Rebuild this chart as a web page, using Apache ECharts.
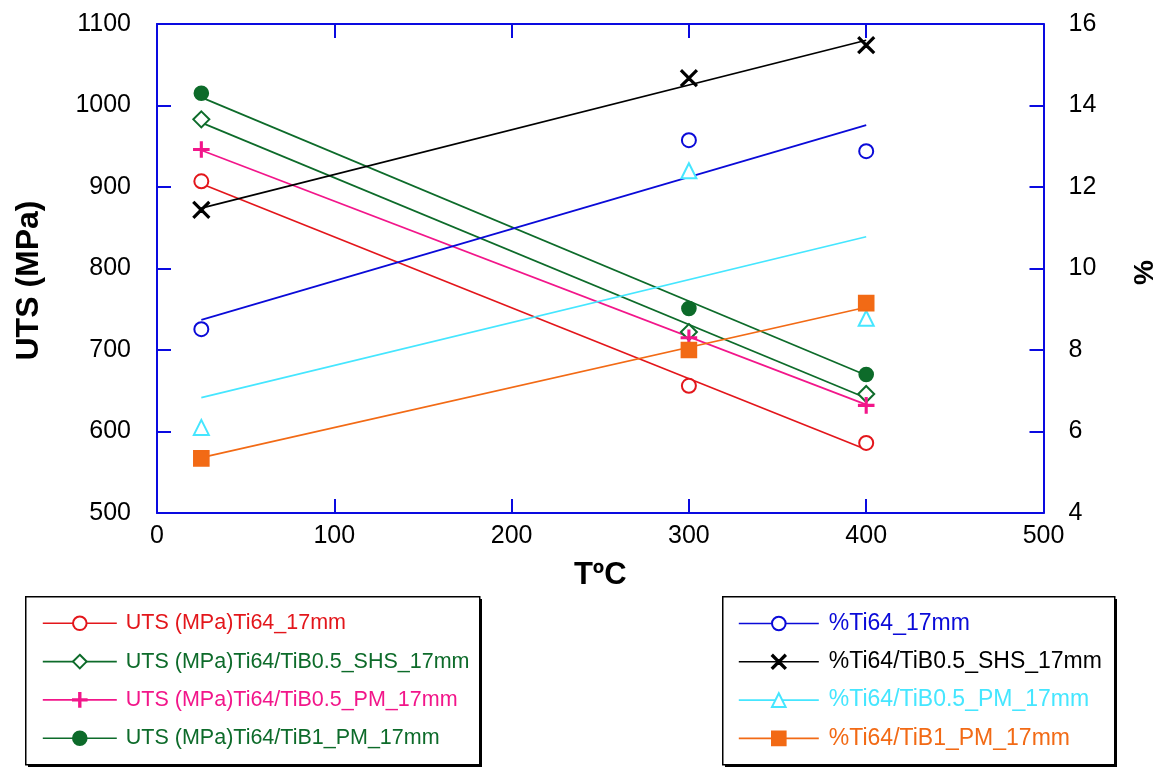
<!DOCTYPE html>
<html>
<head>
<meta charset="utf-8">
<script src="https://cdn.jsdelivr.net/npm/echarts@6/dist/echarts.min.js"></script>
<style>
html,body{margin:0;padding:0;background:#fff;overflow:hidden;}
#chart{width:1157px;height:769px;}
</style>
</head>
<body>
<div id="chart"></div>
<script>
// ---- data ----
const temps = [25, 300, 400];
const fitX = [25, 400];

const utsNames = [
  'UTS (MPa)Ti64_17mm',
  'UTS (MPa)Ti64/TiB0.5_SHS_17mm',
  'UTS (MPa)Ti64/TiB0.5_PM_17mm',
  'UTS (MPa)Ti64/TiB1_PM_17mm'
];
const utsTi64 = [907, 656, 586];
const utsSHS = [983, 722, 646];
const utsPM05 = [946, 715, 632];
const utsTiB1 = [1015, 751, 670];
const utsFitTi64 = [904, 578];
const utsFitSHS = [979, 641];
const utsFitPM05 = [945, 633];
const utsFitTiB1 = [1010, 669];

const pctNames = [
  '%Ti64_17mm',
  '%Ti64/TiB0.5_SHS_17mm',
  '%Ti64/TiB0.5_PM_17mm',
  '%Ti64/TiB1_PM_17mm'
];
const pctTi64 = [8.51, 13.15, 12.88];
const pctSHS = [11.44, 14.67, 15.48];
const pctPM05 = [6.1, 12.4, 8.78];
const pctTiB1 = [5.34, 8.0, 9.15];
const pctFitTi64 = [8.74, 13.52];
const pctFitSHS = [11.48, 15.6];
const pctFitPM05 = [6.83, 10.78];
const pctFitTiB1 = [5.36, 9.05];

// ---- styling ----
const FONT = 'Liberation Sans, Arial, sans-serif';
const AXIS_BLUE = '#0a0ae0';
const PLUS = 'path://M-1,-10 L1,-10 L1,-1 L10,-1 L10,1 L1,1 L1,10 L-1,10 L-1,1 L-10,1 L-10,-1 L-1,-1 Z';
const CROSS = 'path://M-10,-8.6 L-8.6,-10 L0,-1.4 L8.6,-10 L10,-8.6 L1.4,0 L10,8.6 L8.6,10 L0,1.4 L-8.6,10 L-10,8.6 L-1.4,0 Z';

const defs = [
  {name: utsNames[0], y: utsTi64, fit: utsFitTi64, axis: 0, color: '#e3161b', symbol: 'emptyCircle', size: 14},
  {name: utsNames[1], y: utsSHS, fit: utsFitSHS, axis: 0, color: '#0d6b2a', symbol: 'emptyDiamond', size: 16},
  {name: utsNames[2], y: utsPM05, fit: utsFitPM05, axis: 0, color: '#f2168a', symbol: PLUS, size: 15},
  {name: utsNames[3], y: utsTiB1, fit: utsFitTiB1, axis: 0, color: '#0d6b2a', symbol: 'circle', size: 14},
  {name: pctNames[0], y: pctTi64, fit: pctFitTi64, axis: 1, color: '#0a0ad8', symbol: 'emptyCircle', size: 14},
  {name: pctNames[1], y: pctSHS, fit: pctFitSHS, axis: 1, color: '#000000', symbol: CROSS, size: 16},
  {name: pctNames[2], y: pctPM05, fit: pctFitPM05, axis: 1, color: '#45e6ff', symbol: 'emptyTriangle', size: 15},
  {name: pctNames[3], y: pctTiB1, fit: pctFitTiB1, axis: 1, color: '#f26a15', symbol: 'rect', size: 15}
];

const series = [];
defs.forEach(d => {
  series.push({
    name: d.name + ' fit',
    type: 'line',
    xAxisIndex: 0,
    yAxisIndex: d.axis,
    data: fitX.map((x, i) => [x, d.fit[i]]),
    symbol: 'none',
    silent: true,
    lineStyle: {color: d.color, width: 1.7},
    z: 2
  });
  series.push({
    name: d.name,
    type: 'line',
    xAxisIndex: 0,
    yAxisIndex: d.axis,
    data: temps.map((x, i) => [x, d.y[i]]),
    symbol: d.symbol,
    symbolSize: d.size,
    showSymbol: true,
    color: d.color,
    itemStyle: {color: d.color, borderColor: d.color, borderWidth: 1.6},
    lineStyle: {color: d.color, width: 1.6, opacity: 0},
    z: 3
  });
});

function legendData(from, to) {
  return defs.slice(from, to).map(d => ({
    name: d.name,
    textStyle: {color: d.color},
    lineStyle: {color: d.color, width: 1.6, opacity: 1}
  }));
}

const legendCommon = {
  orient: 'vertical',
  itemHeight: 17,
  selectedMode: false,
  z: 10
};

function boxGraphics(x, y, w, h) {
  return [
    {type: 'rect', left: x + 3, top: y + 3, shape: {width: w, height: h}, style: {fill: '#000'}, z: 5, silent: true},
    {type: 'rect', left: x, top: y, shape: {width: w, height: h}, style: {fill: '#fff', stroke: '#000', lineWidth: 1.5}, z: 6, silent: true}
  ];
}

const option = {
  animation: false,
  backgroundColor: '#fff',
  textStyle: {fontFamily: FONT},
  grid: {left: 157, right: 113.5, top: 24, bottom: 256, containLabel: false, outerBoundsMode: 'none'},
  graphic: [].concat(boxGraphics(25, 596, 454, 168), boxGraphics(722, 596, 392, 168)),
  legend: [
    Object.assign({}, legendCommon, {
      left: 25, top: 596,
      itemWidth: 74,
      itemGap: 16.3,
      padding: [16.3, 10, 16.3, 17],
      textStyle: {fontFamily: FONT, fontSize: 21.5, lineHeight: 22, padding: [0, 0, 0, 4]},
      data: legendData(0, 4)
    }),
    Object.assign({}, legendCommon, {
      left: 722, top: 596,
      itemWidth: 80,
      itemGap: 15.3,
      padding: [16, 12, 15, 16],
      textStyle: {fontFamily: FONT, fontSize: 23, lineHeight: 23, padding: [0, 0, 0, 5]},
      data: legendData(4, 8)
    })
  ],
  xAxis: [
    {
      type: 'value', position: 'bottom', min: 0, max: 500, interval: 100,
      name: 'TºC', nameLocation: 'middle', nameGap: 47,
      nameTextStyle: {fontFamily: FONT, fontSize: 31, fontWeight: 'bold', color: '#000'},
      axisLine: {show: true, onZero: false, lineStyle: {color: AXIS_BLUE, width: 2}},
      axisTick: {show: true, inside: true, length: 14, lineStyle: {color: AXIS_BLUE, width: 2}},
      axisLabel: {fontFamily: FONT, fontSize: 25, color: '#000', margin: 11, formatter: v => String(v)},
      splitLine: {show: false}
    },
    {
      type: 'value', position: 'top', min: 0, max: 500, interval: 100,
      axisLine: {show: true, onZero: false, lineStyle: {color: AXIS_BLUE, width: 2}},
      axisTick: {show: true, inside: true, length: 14, lineStyle: {color: AXIS_BLUE, width: 2}},
      axisLabel: {show: false},
      splitLine: {show: false}
    }
  ],
  yAxis: [
    {
      type: 'value', position: 'left', min: 500, max: 1100, interval: 100,
      name: 'UTS (MPa)', nameLocation: 'middle', nameGap: 112,
      nameTextStyle: {fontFamily: FONT, fontSize: 32, fontWeight: 'bold', color: '#000', padding: [0, 24, 0, 0]},
      axisLine: {show: true, onZero: false, lineStyle: {color: AXIS_BLUE, width: 2}},
      axisTick: {show: true, inside: true, length: 14, lineStyle: {color: AXIS_BLUE, width: 2}},
      axisLabel: {fontFamily: FONT, fontSize: 25, color: '#000', margin: 26, formatter: v => String(v)},
      splitLine: {show: false}
    },
    {
      type: 'value', position: 'right', min: 4, max: 16, interval: 2,
      name: '%', nameLocation: 'middle', nameGap: 88,
      nameTextStyle: {fontFamily: FONT, fontSize: 28, fontWeight: 'bold', color: '#000', padding: [0, 8, 0, 0]},
      axisLine: {show: true, onZero: false, lineStyle: {color: AXIS_BLUE, width: 2}},
      axisTick: {show: true, inside: true, length: 14, lineStyle: {color: AXIS_BLUE, width: 2}},
      axisLabel: {fontFamily: FONT, fontSize: 25, color: '#000', margin: 25, formatter: v => String(v)},
      splitLine: {show: false}
    }
  ],
  series: series
};

const chart = echarts.init(document.getElementById('chart'), null, {renderer: 'canvas'});
chart.setOption(option);
</script>
</body>
</html>
